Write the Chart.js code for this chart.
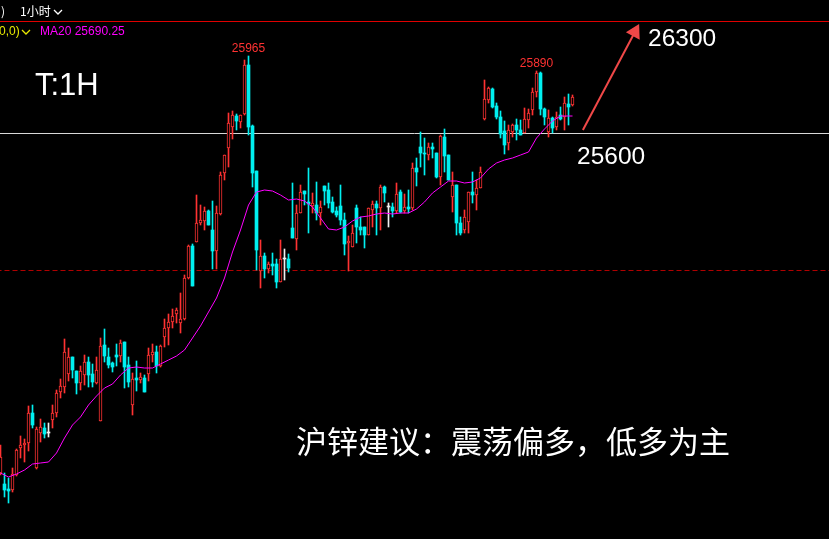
<!DOCTYPE html>
<html>
<head>
<meta charset="utf-8">
<script src="https://cdn.jsdelivr.net/npm/chart.js@4.4.1/dist/chart.umd.min.js"></script>
<style>
  html, body { margin: 0; padding: 0; background: #000; overflow: hidden; }
  #wrap { width: 829px; height: 539px; }
</style>
</head>
<body>
<div id="wrap"><canvas id="kline" width="829" height="539"></canvas></div>
<script>
// hourly bars, index 0 = leftmost visible bar
const opens = [
  23880, 23825, 23800, 23795, 23870, 24005, 24020, 24030, 24180, 23905,
  24080, 24105, 24080, 24145, 24180, 24285, 24310, 24375, 24460, 24390,
  24330, 24370, 24435, 24375, 24330, 24140, 24520, 24460, 24430, 24470,
  24465, 24535, 24420, 24220, 24355, 24345, 24355, 24375, 24470, 24485,
  24415, 24560, 24605, 24635, 24675, 24630, 24650, 24855, 25015, 25035,
  25130, 25140, 25190, 25095, 24990, 25175, 25380, 25505, 25610, 25665,
  25635, 25675, 25920, 25615, 25390, 24890, 24965, 24900, 24925, 24925,
  24835, 24950, 24950, 25105, 25050, 25180, 25290, 25235, 25215, 25220,
  25180, 25315, 25295, 25235, 25190, 25215, 25145, 25030, 25010, 25205,
  25110, 25110, 25070, 25195, 25225, 25205, 25310, 25210, 25210, 25190,
  25285, 25190, 25210, 25205, 25405, 25510, 25480, 25470, 25510, 25480,
  25360, 25560, 25470, 25260, 25320, 25130, 25095, 25135, 25285, 25270,
  25305, 25650, 25745, 25800, 25715, 25660, 25590, 25530, 25585, 25620,
  25595, 25580, 25645, 25695, 25785, 25880, 25700, 25585, 25655, 25610,
  25670, 25660, 25725, 25720
];
const highs = [
  24020, 23880, 23855, 23905, 24000, 24065, 24050, 24215, 24220, 24110,
  24150, 24130, 24130, 24220, 24295, 24350, 24550, 24505, 24460, 24390,
  24415, 24470, 24460, 24425, 24460, 24555, 24600, 24505, 24435, 24525,
  24545, 24535, 24460, 24380, 24440, 24380, 24370, 24505, 24525, 24515,
  24520, 24650, 24675, 24700, 24705, 24780, 24870, 25020, 25025, 25270,
  25220, 25210, 25195, 25240, 25215, 25385, 25470, 25680, 25690, 25675,
  25670, 25945, 25965, 25620, 25390, 25045, 24980, 24935, 24980, 24950,
  25045, 25000, 24975, 25330, 25220, 25320, 25290, 25405, 25280, 25335,
  25240, 25315, 25330, 25260, 25210, 25320, 25180, 25065, 25120, 25220,
  25160, 25110, 25205, 25240, 25240, 25320, 25315, 25230, 25230, 25330,
  25295, 25275, 25295, 25430, 25455, 25585, 25555, 25530, 25530, 25480,
  25570, 25600, 25470, 25385, 25320, 25160, 25195, 25285, 25385, 25345,
  25410, 25845, 25810, 25805, 25730, 25690, 25640, 25620, 25625, 25650,
  25645, 25705, 25700, 25805, 25890, 25885, 25705, 25695, 25660, 25685,
  25710, 25760, 25775, 25770
];
const lows = [
  23870, 23760, 23730, 23785, 23865, 23955, 23935, 23990, 24105, 23900,
  24035, 24055, 24060, 24105, 24160, 24255, 24280, 24340, 24355, 24275,
  24295, 24320, 24310, 24310, 24325, 24140, 24435, 24405, 24385, 24415,
  24435, 24305, 24310, 24170, 24290, 24330, 24285, 24340, 24435, 24380,
  24410, 24510, 24520, 24605, 24630, 24580, 24645, 24850, 24815, 25035,
  25120, 25095, 25120, 24900, 24900, 25170, 25345, 25410, 25550, 25595,
  25605, 25670, 25570, 25310, 24895, 24805, 24855, 24880, 24870, 24805,
  24835, 24845, 24885, 25055, 24995, 25180, 25220, 25080, 25180, 25145,
  25120, 25220, 25205, 25180, 25160, 25120, 24970, 24890, 25010, 25030,
  25070, 25005, 25070, 25110, 25070, 25095, 25235, 25110, 25160, 25180,
  25180, 25180, 25180, 25195, 25315, 25410, 25370, 25445, 25455, 25355,
  25320, 25385, 25345, 25185, 25070, 25070, 25080, 25080, 25230, 25195,
  25305, 25645, 25730, 25705, 25650, 25555, 25475, 25495, 25560, 25545,
  25570, 25580, 25605, 25670, 25760, 25670, 25620, 25560, 25580, 25595,
  25645, 25595, 25620, 25715
];
const closes = [
  23960, 23795, 23790, 23875, 23995, 24020, 24030, 24180, 24120, 24100,
  24110, 24075, 24080, 24180, 24280, 24315, 24485, 24460, 24395, 24330,
  24390, 24435, 24370, 24335, 24395, 24515, 24465, 24420, 24410, 24460,
  24530, 24410, 24335, 24350, 24345, 24360, 24285, 24470, 24485, 24415,
  24515, 24605, 24635, 24665, 24695, 24650, 24855, 25015, 24815, 25130,
  25145, 25190, 25120, 24990, 25180, 25370, 25470, 25630, 25670, 25640,
  25670, 25920, 25610, 25380, 24995, 24965, 24900, 24925, 24915, 24835,
  24950, 24950, 24905, 25055, 25180, 25285, 25275, 25225, 25230, 25180,
  25210, 25290, 25230, 25185, 25170, 25145, 25025, 25040, 25080, 25110,
  25095, 25070, 25205, 25225, 25205, 25310, 25280, 25210, 25190, 25275,
  25185, 25210, 25200, 25405, 25385, 25480, 25475, 25510, 25500, 25360,
  25565, 25465, 25345, 25320, 25130, 25080, 25160, 25285, 25270, 25305,
  25385, 25750, 25805, 25710, 25660, 25575, 25520, 25595, 25620, 25595,
  25570, 25650, 25680, 25785, 25880, 25700, 25660, 25655, 25605, 25660,
  25650, 25730, 25710, 25760
];

// MA20 (bar index, value)
const maIndex = [0, 2, 4, 6, 8, 10, 12, 14, 16, 18, 20, 22, 24, 26, 28, 30, 32, 34, 36, 38,
  40, 42, 44, 46, 48, 50, 52, 54, 56, 58, 60, 62, 64, 66, 68, 70, 72, 74, 76, 78,
  80, 82, 84, 86, 88, 90, 92, 94, 96, 98, 100, 102, 104, 106, 108, 110, 112, 114, 116, 118,
  120, 122, 124, 126, 128, 130, 132, 134, 136, 138, 140, 142, 143];
const ma20 = [23880, 23860, 23875, 23895, 23925, 23930, 23935, 23980, 24055, 24120,
  24160, 24220, 24265, 24305, 24325, 24370, 24405, 24410, 24405, 24405,
  24425, 24445, 24465, 24495, 24555, 24615, 24685, 24755, 24855, 24985,
  25095, 25220, 25285, 25295, 25290, 25270, 25245, 25250, 25240, 25210,
  25155, 25100, 25095, 25110, 25140, 25160, 25165, 25175, 25180, 25175,
  25180, 25180, 25200, 25235, 25280, 25310, 25340, 25340, 25330, 25335,
  25355, 25400, 25430, 25445, 25455, 25470, 25485, 25555, 25600, 25640,
  25665, 25665, 25665];

const supportLine = 25577.5;   // white line, labelled 25600
const lowLine = 24892.5;       // red dashed line
const arrowFrom = [145.6, 25595];
const arrowTo = [158.6, 26085];
const peakLabels = [[62, "25965"], [134, "25890"]];
const maTitle = "MA20 25690.25";

const RED = "#ff3232";
const CYAN = "#00f0f0";
const WHITE = "#f0f0f0";

const colors = opens.map((o, i) => closes[i] > o ? RED : closes[i] < o ? CYAN : WHITE);
const wickData = opens.map((o, i) => ({ x: i, y: [lows[i], highs[i]] }));
const bodyData = opens.map((o, i) => {
  const lo = Math.min(o, closes[i]);
  const hi = Math.max(o, closes[i]);
  return { x: i, y: hi - lo < 5 ? [lo, lo + 5] : [lo, hi] };
});

const chevron = (ctx, x, y, color) => {
  ctx.strokeStyle = color;
  ctx.lineWidth = 1.3;
  ctx.beginPath();
  ctx.moveTo(x, y);
  ctx.lineTo(x + 4, y + 4);
  ctx.lineTo(x + 8, y);
  ctx.stroke();
};

const overlay = {
  id: "overlay",
  beforeDraw(chart) {
    const ctx = chart.ctx;
    ctx.save();
    ctx.fillStyle = "#000";
    ctx.fillRect(0, 0, chart.width, chart.height);
    ctx.restore();
  },
  afterDatasetsDraw(chart) {
    const ctx = chart.ctx;
    const xs = chart.scales.x;
    const ys = chart.scales.y;
    ctx.save();
    // header strip
    ctx.fillStyle = "#000";
    ctx.fillRect(0, 0, chart.width, 22);
    ctx.fillStyle = "#e00000";
    ctx.fillRect(0, 21, chart.width, 1);
    ctx.font = "12px 'Noto Sans CJK SC', sans-serif";
    ctx.textBaseline = "alphabetic";
    ctx.fillStyle = "#ffffff";
    ctx.fillText(")", 1, 16);
    ctx.fillText("1小时", 20, 16);
    chevron(ctx, 54, 10, "#ffffff");
    ctx.font = "12px 'Liberation Sans', Arial, sans-serif";
    ctx.fillStyle = "#e8e800";
    ctx.fillText("0,0)", -1, 35);
    chevron(ctx, 22, 30, "#e8e800");
    ctx.fillStyle = "#ff00ff";
    ctx.fillText(maTitle, 40, 35);

    // peak labels
    ctx.font = "12px 'Liberation Sans', Arial, sans-serif";
    ctx.fillStyle = RED;
    ctx.textAlign = "center";
    peakLabels.forEach(([i, t]) => {
      ctx.fillText(t, xs.getPixelForValue(i), ys.getPixelForValue(highs[i]) - 4);
    });

    ctx.textAlign = "left";
    ctx.fillStyle = "#ffffff";
    ctx.font = "31px 'Liberation Sans', Arial, sans-serif";
    ctx.fillText("T:1H", 35, 95);
    ctx.font = "24.5px 'Liberation Sans', Arial, sans-serif";
    ctx.fillText("26300", 648, 46);
    ctx.fillText("25600", 577, 164);
    ctx.font = "31px 'Noto Sans CJK SC', sans-serif";
    ctx.fillText("沪锌建议：震荡偏多，低多为主", 296, 453);
    ctx.restore();
  }
};

new Chart(document.getElementById("kline"), {
  data: {
    datasets: [
      {
        type: "line",
        data: maIndex.map((x, k) => ({ x, y: ma20[k] })),
        borderColor: "#ff00ff",
        borderWidth: 1,
        pointRadius: 0,
        order: 0
      },
      {
        type: "line",
        data: [{ x: arrowFrom[0], y: arrowFrom[1] }, { x: arrowTo[0], y: arrowTo[1] }],
        borderColor: "#f04848",
        borderWidth: 2,
        pointRadius: [0, 7],
        pointStyle: "triangle",
        pointRotation: 28,
        pointBackgroundColor: "#f04848",
        pointBorderColor: "#f04848",
        order: 0
      },
      {
        type: "bar",
        data: bodyData,
        grouped: false,
        barThickness: 3,
        backgroundColor: colors.map(c => c === RED ? "#000" : c),
        borderColor: colors,
        borderWidth: colors.map(c => c === RED ? 1 : 0),
        borderSkipped: false,
        order: 1
      },
      {
        type: "bar",
        data: wickData,
        grouped: false,
        barThickness: 1,
        backgroundColor: colors,
        borderWidth: 0,
        order: 2
      },
      {
        type: "line",
        data: [{ x: -1, y: supportLine }, { x: 208, y: supportLine }],
        borderColor: "#d8d8d8",
        borderWidth: 1,
        pointRadius: 0,
        order: 3
      },
      {
        type: "line",
        data: [{ x: -1, y: lowLine }, { x: 208, y: lowLine }],
        borderColor: "#b00000",
        borderWidth: 1,
        borderDash: [5, 3],
        pointRadius: 0,
        order: 3
      }
    ]
  },
  options: {
    responsive: false,
    animation: false,
    devicePixelRatio: 1,
    layout: { padding: 0, autoPadding: false },
    plugins: { legend: { display: false }, tooltip: { enabled: false } },
    scales: {
      x: { type: "linear", min: -0.125, max: 207.125, offset: false, display: false },
      y: { min: 23550, max: 26245, display: false }
    }
  },
  plugins: [overlay]
});
</script>
</body>
</html>
